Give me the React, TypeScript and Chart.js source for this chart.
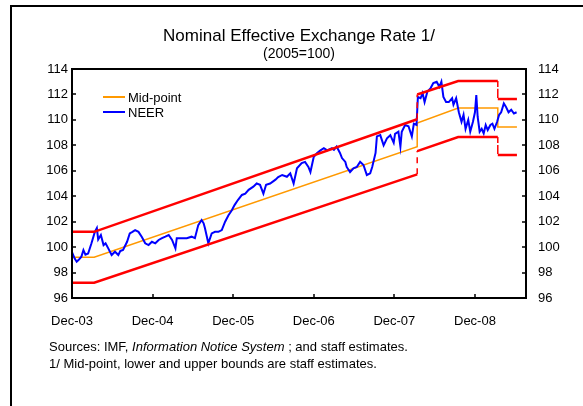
import React, { useEffect, useRef } from 'react';
import { Chart, registerables } from 'chart.js';

Chart.register(...registerables);

// ---- Data (months since Dec-2003) ----
const xTickMonths = [0, 12, 24, 36, 48, 60];
const xTickLabels = ['Dec-03', 'Dec-04', 'Dec-05', 'Dec-06', 'Dec-07', 'Dec-08'];
const yMin = 96;
const yMax = 114;
const yStep = 2;
const xMax = 67.6;

const bandMonths = [0, 3.3, 51.4, 51.4, 57.5, 63.4, 63.4, 66.25];
const upperBound = [101.2, 101.2, 110.05, 112.0, 113.06, 113.06, 111.64, 111.64];
const midPoint = [99.2, 99.2, 107.9, 109.75, 110.93, 110.93, 109.44, 109.44];
const lowerBound = [97.2, 97.2, 105.72, 107.55, 108.65, 108.65, 107.24, 107.24];

const neerMonths = [
  0.0, 0.4, 0.7, 1.0, 1.4, 1.7, 2.0, 2.4, 2.9, 3.4, 3.7, 3.9, 4.3, 4.7, 5.0, 5.4, 5.9, 6.4, 6.9, 7.2,
  7.6, 8.2, 8.6, 9.0, 9.4, 9.9, 10.4, 10.9, 11.4, 11.9, 12.4, 12.9, 13.4, 13.9, 14.4, 14.9, 15.4, 15.6, 16.3, 17.1,
  17.8, 18.3, 18.8, 19.3, 19.6, 19.8, 20.3, 20.8, 21.3, 21.8, 22.3, 22.8, 23.3, 23.8, 24.2, 24.7, 25.3, 25.8, 26.3, 27.0,
  27.5, 28.0, 28.5, 28.9, 29.5, 30.3, 30.7, 31.3, 32.0, 32.5, 33.0, 33.5, 34.2, 34.7, 35.2, 35.5, 36.0, 36.5, 37.0, 37.5,
  38.0, 38.7, 39.0, 39.4, 39.9, 40.2, 40.7, 40.9, 41.4, 41.9, 42.4, 42.9, 43.4, 43.9, 44.4, 44.7, 45.2, 45.4, 45.9, 46.4,
  46.9, 47.4, 47.9, 48.1, 48.6, 48.9, 49.1, 49.6, 50.1, 50.6, 50.9, 51.3, 51.5, 51.9, 52.2, 52.5, 52.9, 53.4, 53.8, 54.3,
  54.7, 55.0, 55.3, 55.7, 56.1, 56.6, 56.8, 57.2, 57.6, 58.0, 58.3, 58.6, 59.0, 59.3, 59.7, 60.0, 60.2, 60.4, 60.7, 61.0,
  61.3, 61.6, 61.9, 62.3, 62.6, 62.9, 63.3, 63.6, 63.9, 64.3, 64.6, 65.0, 65.4, 65.8, 66.2,
];
const neerValues = [
  99.6, 99.1, 98.85, 99.0, 99.25, 99.77, 99.4, 99.5, 100.3, 101.2, 101.5, 100.6, 100.95, 100.16, 100.3, 99.9, 99.38, 99.64, 99.38, 99.7,
  99.77, 100.42, 101.08, 101.2, 101.34, 101.2, 100.8, 100.3, 100.16, 100.42, 100.3, 100.56, 100.7, 100.82, 100.95, 100.56, 99.9, 100.7, 100.7, 100.7,
  100.82, 100.7, 101.73, 102.13, 101.87, 101.48, 100.3, 101.08, 101.2, 101.2, 101.34, 102.0, 102.5, 102.9, 103.3, 103.7, 104.1, 104.2, 104.5, 104.75,
  105.0, 104.9, 104.2, 104.9, 105.0, 105.3, 105.5, 105.67, 105.53, 105.8, 105.0, 106.2, 106.6, 106.7, 106.3, 105.9, 107.1, 107.4, 107.6, 107.77,
  107.6, 107.77, 107.64, 107.9, 107.4, 107.0, 106.7, 106.3, 105.9, 106.2, 106.3, 106.7, 106.45, 105.67, 105.8, 106.3, 107.4, 108.7, 108.8, 108.0,
  108.55, 108.8, 108.2, 108.9, 109.07, 107.9, 109.07, 109.6, 109.5, 108.7, 109.7, 109.6, 111.8, 111.7, 112.1, 111.4, 112.2, 112.5, 112.9, 113.0,
  112.6, 113.0, 111.8, 111.4, 111.4, 111.7, 111.2, 111.7, 110.6, 109.85, 110.4, 109.3, 110.0, 109.07, 109.85, 110.6, 111.96, 110.25, 109.07, 109.3,
  108.94, 109.6, 109.2, 109.6, 109.7, 109.3, 109.85, 110.4, 110.6, 111.3, 111.04, 110.6, 110.8, 110.5, 110.6,
];

const toXY = (xs: number[], ys: number[]) => xs.map((x, i) => ({ x, y: ys[i] }));

const FONT = '"Liberation Sans", Arial, sans-serif';

const verticalDash = {
  borderDash: (ctx: any) => (ctx.p0.parsed.x === ctx.p1.parsed.x ? [6, 5] : undefined),
  borderWidth: (ctx: any) => (ctx.p0.parsed.x === ctx.p1.parsed.x ? 1.5 : undefined),
};

const framePlugin = {
  id: 'frameAndLegend',
  afterDatasetsDraw(chart: any) {
    const { ctx, chartArea: a, scales } = chart;
    ctx.save();
    ctx.strokeStyle = '#000';
    ctx.lineWidth = 2;
    ctx.strokeRect(a.left, a.top, a.right - a.left, a.bottom - a.top);
    ctx.lineWidth = 1.5;
    ctx.beginPath();
    const yScale = scales.y;
    for (let v = yMin; v <= yMax; v += yStep) {
      const py = Math.round(yScale.getPixelForValue(v));
      ctx.moveTo(a.left, py);
      ctx.lineTo(a.left + 4, py);
      ctx.moveTo(a.right, py);
      ctx.lineTo(a.right - 4, py);
    }
    const xScale = scales.x;
    xTickMonths.forEach((m) => {
      const px = Math.round(xScale.getPixelForValue(m));
      ctx.moveTo(px, a.bottom);
      ctx.lineTo(px, a.bottom - 4);
    });
    ctx.stroke();

    // legend inside plot
    const items = chart.data.datasets.filter((d: any) => d.inLegend);
    items.sort((p: any, q: any) => p.legendRank - q.legendRank);
    const lx = a.left + 31;
    let ly = a.top + 28;
    ctx.font = '13px ' + FONT;
    ctx.textBaseline = 'middle';
    ctx.fillStyle = '#000';
    items.forEach((d: any) => {
      ctx.beginPath();
      ctx.strokeStyle = d.borderColor;
      ctx.lineWidth = 2;
      ctx.moveTo(lx, ly);
      ctx.lineTo(lx + 22, ly);
      ctx.stroke();
      ctx.fillText(d.label, lx + 25, ly + 1);
      ly += 15;
    });
    ctx.restore();
  },
};

export default function App() {
  const ref = useRef<HTMLCanvasElement>(null);

  useEffect(() => {
    if (!ref.current) return;
    const tickFont = { family: FONT, size: 13 };
    const chart = new Chart(ref.current, {
      type: 'line',
      data: {
        datasets: [
          {
            label: 'Upper bound',
            data: toXY(bandMonths, upperBound),
            borderColor: '#FF0000',
            borderWidth: 2.5,
            pointRadius: 0,
            segment: verticalDash,
          } as any,
          {
            label: 'Lower bound',
            data: toXY(bandMonths, lowerBound),
            borderColor: '#FF0000',
            borderWidth: 2.5,
            pointRadius: 0,
            segment: verticalDash,
          } as any,
          {
            label: 'NEER',
            data: toXY(neerMonths, neerValues),
            borderColor: '#0000FF',
            borderWidth: 2,
            pointRadius: 0,
            inLegend: true,
            legendRank: 2,
          } as any,
          {
            label: 'Mid-point',
            data: toXY(bandMonths, midPoint),
            borderColor: '#FF9900',
            borderWidth: 1.5,
            pointRadius: 0,
            inLegend: true,
            legendRank: 1,
          } as any,
        ],
      },
      options: {
        animation: false,
        responsive: false,
        devicePixelRatio: 1,
        layout: { padding: { left: 0, top: 69, right: 0, bottom: 0 } },
        plugins: { legend: { display: false }, tooltip: { enabled: false }, title: { display: false } },
        scales: {
          x: {
            type: 'linear',
            min: 0,
            max: xMax,
            afterBuildTicks: (s: any) => {
              s.ticks = xTickMonths.map((v) => ({ value: v }));
            },
            afterFit: (s: any) => {
              s.height = 406 - 298;
            },
            grid: { display: false, drawTicks: false },
            border: { display: false },
            ticks: {
              color: '#000',
              font: tickFont,
              padding: 16,
              maxRotation: 0,
              autoSkip: false,
              callback: (v: any) => xTickLabels[xTickMonths.indexOf(Number(v))],
            },
          },
          y: {
            position: 'left',
            min: yMin,
            max: yMax,
            afterFit: (s: any) => {
              s.width = 72;
            },
            grid: { display: false, drawTicks: false },
            border: { display: false },
            ticks: { stepSize: yStep, color: '#000', font: tickFont, padding: 4 },
          },
          y2: {
            position: 'right',
            min: yMin,
            max: yMax,
            afterFit: (s: any) => {
              s.width = 583 - 526;
            },
            grid: { display: false, drawTicks: false },
            border: { display: false },
            ticks: { stepSize: yStep, color: '#000', font: tickFont, padding: 12 },
          },
        },
      } as any,
      plugins: [framePlugin],
    });
    return () => chart.destroy();
  }, []);

  return (
    <div
      style={{
        position: 'fixed',
        left: 0,
        top: 0,
        width: 583,
        height: 406,
        overflow: 'hidden',
        background: '#fff',
        fontFamily: FONT,
        color: '#000',
      }}
    >
      <div
        style={{
          position: 'absolute',
          left: 10,
          top: 5,
          width: 620,
          height: 440,
          borderLeft: '2px solid #000',
          borderTop: '2px solid #000',
        }}
      />
      <canvas
        ref={ref}
        width={583}
        height={406}
        style={{ position: 'absolute', left: 0, top: 0, width: 583, height: 406 }}
      />
      <div
        style={{
          position: 'absolute',
          left: 0,
          width: 598,
          top: 26,
          textAlign: 'center',
          fontSize: 17,
          lineHeight: '20px',
          whiteSpace: 'nowrap',
        }}
      >
        Nominal Effective Exchange Rate 1/
      </div>
      <div
        style={{
          position: 'absolute',
          left: 0,
          width: 598,
          top: 45,
          textAlign: 'center',
          fontSize: 14,
          lineHeight: '17px',
          whiteSpace: 'nowrap',
        }}
      >
        (2005=100)
      </div>
      <div
        style={{
          position: 'absolute',
          left: 49,
          top: 338,
          fontSize: 13,
          lineHeight: '17px',
          whiteSpace: 'nowrap',
        }}
      >
        <div>
          Sources: IMF, <i>Information Notice System</i> ; and staff estimates.
        </div>
        <div>1/ Mid-point, lower and upper bounds are staff estimates.</div>
      </div>
    </div>
  );
}
